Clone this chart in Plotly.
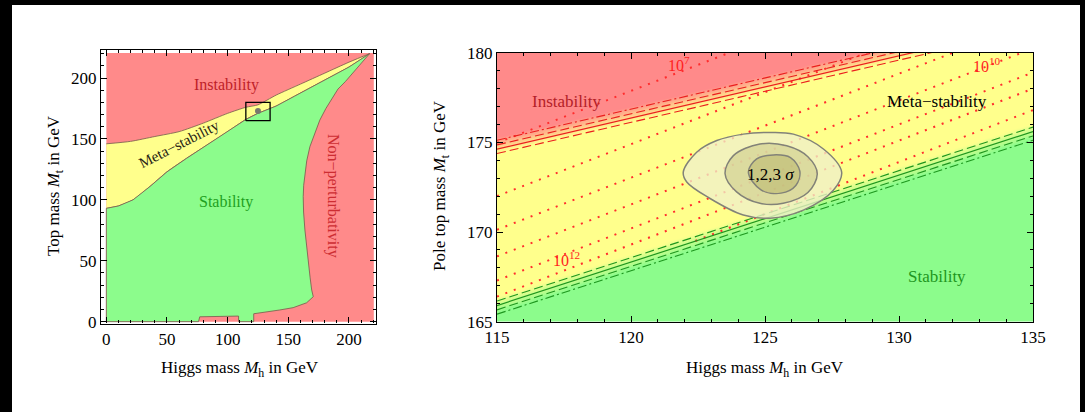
import numpy as np
import plotly.graph_objects as go

W, H = 1085, 412

# ---------------- Left panel data (Higgs mass vs top mass, GeV) ----------------
meta_upper_x = [0, 20, 40, 60, 80, 100, 115, 125, 140, 160, 180, 200, 217]
meta_upper_y = [146, 148, 152, 156, 163, 171, 176, 178, 186, 195, 204, 213, 220]
stab_lower_x = [0, 10, 22, 36, 50, 66, 83, 100, 115, 125, 140, 155, 170, 185, 200, 217]
stab_lower_y = [93, 95, 100, 111, 123, 134, 145, 156, 166, 171, 177, 185, 193, 201, 209, 220]
nonpert_x = [217, 211, 204, 197, 191, 187, 181, 176, 171.5, 167.8, 165.2, 163.7, 162.7, 162.3,
             162.6, 163.7, 165, 166.5, 168, 169.3, 170.6,
             165.1, 154, 143, 125, 121.5, 121.5]
nonpert_y = [220, 213, 205, 197, 191, 184.7, 175, 165.5, 154, 143.6, 132, 121.8, 112, 102.6,
             90, 75.3, 62, 47.9, 36, 26, 20.5,
             15.5, 11.5, 9.6, 7, 6.5, 0]
bottom_x = [109, 109, 100, 77, 76, 0]
bottom_y = [0, 4.6, 4.3, 4.0, 0, 0]
domain_max = [0, 220.5]
box_x = [115, 135]
box_y = [165, 180]
best_fit = [125, 173]

# ---------------- Right panel data ----------------
edge_x = [115, 135]
# instability boundary (red): y at Mh=115 and Mh=135
red_dashdot = [175.12, 182.06]
red_dash_up = [174.86, 181.80]
red_solid = [174.62, 181.56]
red_dash_lo = [174.38, 181.32]
# stability boundary (green)
grn_dash_up = [166.15, 175.85]
grn_solid = [165.9, 175.6]
grn_dash_lo = [165.66, 175.36]
grn_dashdot = [165.42, 175.12]
# instability-scale contours (dotted): start and end points
scale_x = {
    "1e7": [115, 135], "1e8": [115, 135], "1e9": [115, 135], "1e10": [115, 135],
    "1e11": [115, 135], "1e12": [115, 135], "1e13": [122.4, 135],
}
scale_y = {
    "1e7": [174.97, 186.57], "1e8": [172.0, 183.6], "1e9": [170.13, 181.73],
    "1e10": [168.64, 180.24], "1e11": [167.3, 178.9], "1e12": [166.4, 178.0],
    "1e13": [169.5, 176.8],
}
# experimental 1,2,3 sigma contours
sig3_x = [121.95, 122.45, 123.2, 124.19, 125.1, 126.06, 127.18, 127.86, 127.55, 126.43, 125.19, 124.19, 122.95, 122.08]
sig3_y = [173.34, 174.45, 175.1, 175.46, 175.55, 175.46, 174.63, 173.34, 172.33, 171.22, 170.77, 170.95, 171.87, 172.79]
sig2_x = [123.51, 123.82, 124.81, 125.81, 126.6, 126.95, 126.6, 125.68, 124.81, 123.94]
sig2_y = [173.25, 174.26, 174.91, 174.81, 174.2, 173.25, 172.2, 171.6, 171.6, 172.24]
sig1_x = [124.38, 124.69, 125.31, 125.95, 126.3, 126.15, 125.6, 124.85]
sig1_y = [173.34, 174.08, 174.3, 174.15, 173.4, 172.6, 172.17, 172.35]

RED = "rgb(255,138,138)"
YEL = "rgb(255,255,140)"
GRN = "rgb(140,252,140)"
EDGE = "rgba(125,95,80,0.85)"
SERIF = "Liberation Serif"

fig = go.Figure()

# ---------- Left panel ----------
fig.add_trace(go.Scatter(
    x=[domain_max[0], domain_max[1], domain_max[1], domain_max[0], domain_max[0]],
    y=[domain_max[0], domain_max[0], domain_max[1], domain_max[1], domain_max[0]],
    fill="toself", fillcolor=RED, line=dict(width=0), mode="lines",
    xaxis="x", yaxis="y", hoverinfo="skip"))

yel_x = meta_upper_x + stab_lower_x[::-1]
yel_y = meta_upper_y + stab_lower_y[::-1]
fig.add_trace(go.Scatter(x=yel_x, y=yel_y, fill="toself", fillcolor=YEL,
                         line=dict(color=EDGE, width=1, shape="spline", smoothing=0.6),
                         mode="lines", xaxis="x", yaxis="y", hoverinfo="skip"))

grn_x = [0] + stab_lower_x + nonpert_x[1:] + bottom_x
grn_y = [0] + stab_lower_y + nonpert_y[1:] + bottom_y
fig.add_trace(go.Scatter(x=grn_x, y=grn_y, fill="toself", fillcolor=GRN,
                         line=dict(color=EDGE, width=1),
                         mode="lines", xaxis="x", yaxis="y", hoverinfo="skip"))

fig.add_trace(go.Scatter(
    x=[box_x[0], box_x[1], box_x[1], box_x[0], box_x[0]],
    y=[box_y[0], box_y[0], box_y[1], box_y[1], box_y[0]],
    mode="lines", line=dict(color="black", width=1.3), xaxis="x", yaxis="y", hoverinfo="skip"))
fig.add_trace(go.Scatter(x=[best_fit[0]], y=[best_fit[1]], mode="markers",
                         marker=dict(size=6, color="rgb(120,120,110)"),
                         xaxis="x", yaxis="y", hoverinfo="skip"))

# ---------- Right panel ----------
gx = np.linspace(edge_x[0], edge_x[1], 241)
gy = np.linspace(165, 180, 241)
GX, GY = np.meshgrid(gx, gy)
t = (GX - edge_x[0]) / (edge_x[1] - edge_x[0])
red_line = red_solid[0] + t * (red_solid[1] - red_solid[0]) + 0.25
grn_line = grn_solid[0] + t * (grn_solid[1] - grn_solid[0]) + 0.05
wdt = 0.85
z = np.clip((GY - grn_line) / wdt + 0.5, 0, 1) + np.clip((GY - red_line) / wdt + 0.5, 0, 1)
fig.add_trace(go.Heatmap(x=gx, y=gy, z=z, zmin=0, zmax=2, zsmooth="best", showscale=False,
                         colorscale=[[0, GRN], [0.5, YEL], [1, RED]],
                         xaxis="x2", yaxis="y2", hoverinfo="skip"))

for k in scale_x:
    fig.add_trace(go.Scatter(x=scale_x[k], y=scale_y[k], mode="lines",
                             line=dict(color="rgb(255,45,45)", width=2, dash="2px,7px"),
                             xaxis="x2", yaxis="y2", hoverinfo="skip"))

for vals, dash, w in [(red_dashdot, "9px,3px,2px,3px", 1.1), (red_dash_up, "9px,4px", 1.1),
                      (red_solid, "solid", 1.2), (red_dash_lo, "9px,4px", 1.1)]:
    fig.add_trace(go.Scatter(x=edge_x, y=vals, mode="lines",
                             line=dict(color="rgb(235,30,30)", width=w, dash=dash),
                             xaxis="x2", yaxis="y2", hoverinfo="skip"))
for vals, dash, w in [(grn_dash_up, "9px,4px", 1.1), (grn_solid, "solid", 1.2),
                      (grn_dash_lo, "9px,4px", 1.1), (grn_dashdot, "9px,3px,2px,3px", 1.1)]:
    fig.add_trace(go.Scatter(x=edge_x, y=vals, mode="lines",
                             line=dict(color="rgb(30,150,30)", width=w, dash=dash),
                             xaxis="x2", yaxis="y2", hoverinfo="skip"))

for sx, sy, fc in [(sig3_x, sig3_y, "rgba(240,240,200,0.78)"),
                   (sig2_x, sig2_y, "rgba(205,203,140,0.6)"),
                   (sig1_x, sig1_y, "rgba(185,183,110,0.55)")]:
    fig.add_trace(go.Scatter(x=sx + sx[:1], y=sy + sy[:1], fill="toself", fillcolor=fc,
                             mode="lines",
                             line=dict(color="rgb(130,130,120)", width=1.5, shape="spline", smoothing=1.0),
                             xaxis="x2", yaxis="y2", hoverinfo="skip"))

# ---------- Axes ----------
def px_x(p):
    return p / W

def px_y(p):
    return 1 - p / H

tickfont = dict(family=SERIF, size=17, color="black")
common = dict(showgrid=False, zeroline=False, showline=True, linecolor="black", linewidth=1.2,
              mirror="allticks", ticks="inside", ticklen=6, tickcolor="black", tickwidth=1,
              tickfont=tickfont)

fig.update_layout(
    width=W, height=H, margin=dict(l=0, r=0, t=0, b=0, pad=0, autoexpand=False),
    paper_bgcolor="black", plot_bgcolor="white", showlegend=False,
    xaxis=dict(domain=[px_x(101), px_x(376)], range=[-4.4, 222.3], anchor="y",
               tickvals=[0, 50, 100, 150, 200],
               minor=dict(ticks="inside", dtick=10, tick0=0, ticklen=3, tickcolor="black"),
               **common),
    yaxis=dict(domain=[px_y(323.5), px_y(50)], range=[-1.5, 223], anchor="x",
               tickvals=[0, 50, 100, 150, 200],
               minor=dict(ticks="inside", dtick=10, tick0=0, ticklen=3, tickcolor="black"),
               **common),
    xaxis2=dict(domain=[px_x(497), px_x(1033)], range=[115, 135], anchor="y2",
                tickvals=[115, 120, 125, 130, 135],
                minor=dict(ticks="inside", dtick=1, tick0=115, ticklen=3, tickcolor="black"),
                **common),
    yaxis2=dict(domain=[px_y(321.7), px_y(52.7)], range=[165, 180], anchor="x2",
                tickvals=[165, 170, 175, 180],
                minor=dict(ticks="inside", dtick=1, tick0=165, ticklen=3, tickcolor="black"),
                **common),
)

# white page
fig.add_shape(type="rect", xref="paper", yref="paper", x0=px_x(12), x1=px_x(1080),
              y0=-0.1, y1=px_y(5), fillcolor="white", line=dict(width=0), layer="below")

ann = []
def A(text, x, y, xref, yref, size=15, color="black", angle=0):
    ann.append(dict(text=text, x=x, y=y, xref=xref, yref=yref, showarrow=False,
                    xanchor="center", yanchor="middle",
                    font=dict(family=SERIF, size=size, color=color), textangle=angle))

# axis titles
A("Higgs mass <i>M</i><sub>h</sub> in GeV", px_x(240), px_y(369), "paper", "paper", size=17)
A("Top mass <i>M</i><sub>t</sub> in GeV", px_x(55), px_y(186), "paper", "paper", size=17, angle=-90)
A("Higgs mass <i>M</i><sub>h</sub> in GeV", px_x(765), px_y(369), "paper", "paper", size=17)
A("Pole top mass <i>M</i><sub>t</sub> in GeV", px_x(441), px_y(186), "paper", "paper", size=17, angle=-90)

# left panel labels
A("Instability", 99, 194, "x", "y", size=16, color="rgb(190,30,40)")
A("Meta−stability", 60, 146, "x", "y", size=15, color="rgb(40,30,20)", angle=-27)
A("Stability", 99, 98.5, "x", "y", size=16, color="rgb(30,160,30)")
A("Non−perturbativity", 187, 103, "x", "y", size=16, color="rgb(205,45,50)", angle=90)

# right panel labels
A("Instability", 117.6, 177.3, "x2", "y2", size=17, color="rgb(180,30,40)")
A("Meta−stability", 131.4, 177.3, "x2", "y2", size=17, color="black")
A("Stability", 131.4, 167.5, "x2", "y2", size=17, color="rgb(30,150,30)")
A("1,2,3 <i>σ</i>", 125.2, 173.2, "x2", "y2", size=17, color="black")
A("10<sup>7</sup>", 121.8, 179.35, "x2", "y2", size=16, color="rgb(255,30,30)")
A("10<sup>10</sup>", 133.3, 179.3, "x2", "y2", size=16, color="rgb(255,30,30)")
A("10<sup>12</sup>", 117.6, 168.5, "x2", "y2", size=16, color="rgb(255,30,30)")

fig.update_layout(annotations=ann)
fig.write_html("out.html")
